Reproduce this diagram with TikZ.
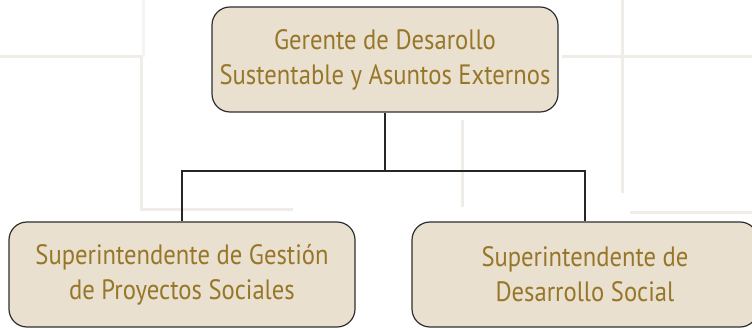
\documentclass[tikz,border=0pt]{standalone}
\usepackage{fontspec}
\setmainfont[FakeStretch=0.88]{PT Sans}
\definecolor{boxfill}{HTML}{E9E0D0}
\definecolor{boxtext}{HTML}{977628}
\definecolor{boxline}{HTML}{2E2E2E}
\definecolor{bgline}{HTML}{F0EDE8}
\tikzset{
  orgbox/.style={draw=boxline, line width=1.2pt, fill=boxfill, rounded corners=18pt,
    minimum width=346pt, minimum height=105pt, inner sep=0pt, align=center,
    text=boxtext, font=\fontsize{28}{35}\selectfont},
  link/.style={draw=black!85, line width=1.9pt},
  bg/.style={draw=bgline, line width=3pt}
}
\begin{document}
\begin{tikzpicture}[x=1pt,y=-1pt]
\useasboundingbox (0,0) rectangle (752,328);
\clip (0,0) rectangle (752,328);
% faint background lines
\draw[bg] (0,57) -- (141,57) -- (141,210) -- (293,210);
\draw[bg, draw=bgline!60] (143,0) -- (143,57);
\draw[bg] (462,120) -- (462,207);
\draw[bg] (622,0) -- (622,193);
\draw[bg] (562,57) -- (752,57);
\draw[bg] (630,213) -- (752,213);
% boxes
\node[orgbox] (top) at (385,59.5) {Gerente de Desarollo\\Sustentable y Asuntos Externos};
\node[orgbox] (left) at (182,274.5) {Superintendente de Gestión\\de Proyectos Sociales};
\node[orgbox] (right) at (585,274.5) {Superintendente de\\Desarrollo Social};
% connectors
\coordinate (j) at (385,171);
\draw[link] (top.south) -- (j);
\draw[link] (left.north) |- (j) -| (right.north);
\end{tikzpicture}
\end{document}
